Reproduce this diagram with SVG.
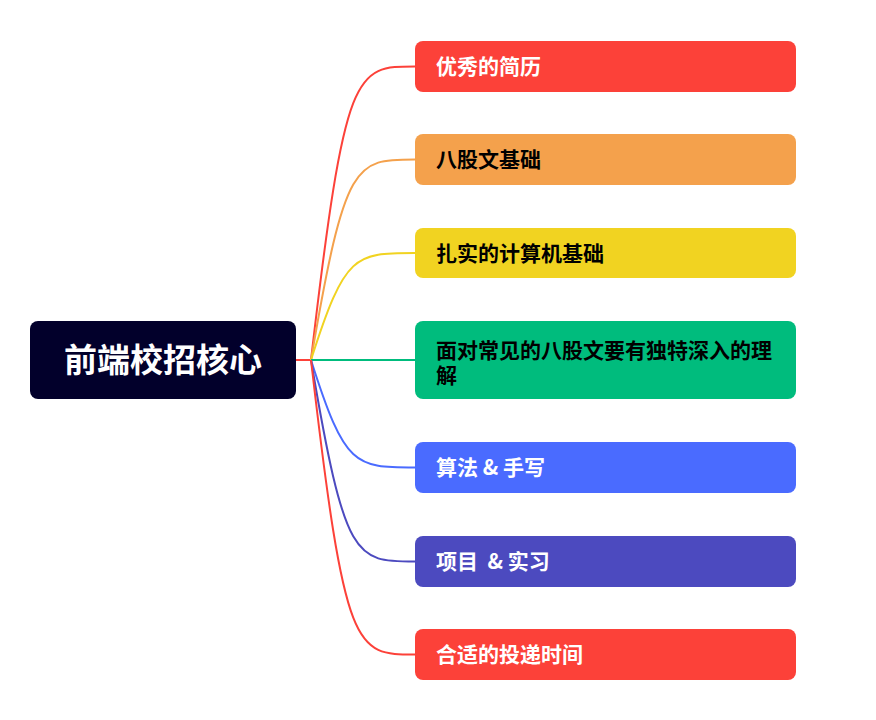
<svg xmlns="http://www.w3.org/2000/svg" width="876" height="720" viewBox="0 0 876 720">
<style>
.lnk{fill:none;stroke-width:2}
.t{font-family:"Noto Sans CJK SC","Liberation Sans",sans-serif;font-weight:bold;font-size:21px;white-space:pre}
.w{fill:#ffffff}
.b{fill:#000000}
</style>
<rect width="876" height="720" fill="#ffffff"/>
<g id="connectors">
<path class="lnk" stroke="#fc4139" d="M296,360 L311,360 C345,66.5 355,66.5 415,66.5"/>
<path class="lnk" stroke="#f4a14c" d="M311,360 C345,159.5 355,159.5 415,159.5"/>
<path class="lnk" stroke="#f1d321" d="M311,360 C345,253 355,253 415,253"/>
<path class="lnk" stroke="#00bc7d" d="M311,360 L415,360"/>
<path class="lnk" stroke="#4a6bff" d="M311,360 C345,467.5 355,467.5 415,467.5"/>
<path class="lnk" stroke="#4c4abf" d="M311,360 C345,561.5 355,561.5 415,561.5"/>
<path class="lnk" stroke="#fc4139" d="M311,360 C345,654.5 355,654.5 415,654.5"/>
</g>
<g id="root">
<rect x="30" y="321" width="266" height="78" rx="8" fill="#02002b"/>
<text x="163" y="371.5" text-anchor="middle" class="t w" style="font-size:33px">前端校招核心</text>
</g>
<g id="n1">
<rect x="415" y="41" width="381" height="51" rx="8" fill="#fc4139"/>
<text x="436" y="74" class="t w">优秀的简历</text>
</g>
<g id="n2">
<rect x="415" y="134" width="381" height="51" rx="8" fill="#f4a14c"/>
<text x="436" y="167" class="t b">八股文基础</text>
</g>
<g id="n3">
<rect x="415" y="228" width="381" height="50" rx="8" fill="#f1d321"/>
<text x="436" y="260.5" class="t b">扎实的计算机基础</text>
</g>
<g id="n4">
<rect x="415" y="321" width="381" height="78" rx="8" fill="#00bc7d"/>
<text class="t b"><tspan x="436" y="357.5">面对常见的八股文要有独特深入的理</tspan><tspan x="436" y="383">解</tspan></text>
</g>
<g id="n5">
<rect x="415" y="442" width="381" height="51" rx="8" fill="#4a6bff"/>
<text x="436" y="475" class="t w">算法 &amp; 手写</text>
</g>
<g id="n6">
<rect x="415" y="536" width="381" height="51" rx="8" fill="#4c4abf"/>
<text x="436" y="569" class="t w">项目  &amp; 实习</text>
</g>
<g id="n7">
<rect x="415" y="629" width="381" height="51" rx="8" fill="#fc4139"/>
<text x="436" y="662" class="t w">合适的投递时间</text>
</g>
</svg>
